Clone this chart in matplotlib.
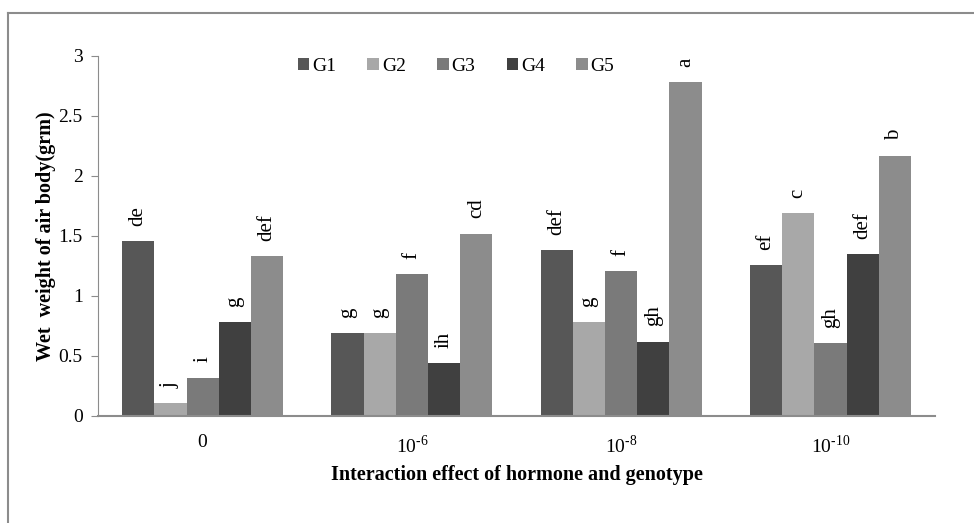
import numpy as np
import matplotlib
matplotlib.use("Agg")
import matplotlib.pyplot as plt
from matplotlib.lines import Line2D

plt.rcParams['font.family'] = ['Liberation Serif', 'DejaVu Serif']
plt.rcParams['mathtext.fontset'] = 'custom'
plt.rcParams['mathtext.rm'] = 'Liberation Serif'

# data
treatments = ['0', r'$10^{\text{-}6}$', r'$10^{\text{-}8}$', r'$10^{\text{-}10}$']
genotypes = ['G1', 'G2', 'G3', 'G4', 'G5']
g1 = [1.46, 0.69, 1.38, 1.26]
g2 = [0.11, 0.69, 0.78, 1.69]
g3 = [0.32, 1.18, 1.21, 0.61]
g4 = [0.78, 0.44, 0.62, 1.35]
g5 = [1.33, 1.52, 2.78, 2.17]
letters_g1 = ['de', 'g', 'def', 'ef']
letters_g2 = ['j', 'g', 'g', 'c']
letters_g3 = ['i', 'f', 'f', 'gh']
letters_g4 = ['g', 'ih', 'gh', 'def']
letters_g5 = ['def', 'cd', 'a', 'b']

series = [g1, g2, g3, g4, g5]
letters = [letters_g1, letters_g2, letters_g3, letters_g4, letters_g5]
colors = ['#575757', '#a8a8a8', '#7a7a7a', '#404040', '#8c8c8c']

fig = plt.figure(figsize=(9.74, 5.23), dpi=100)
ax = fig.add_axes([0.1006, 0.2046, 0.8594, 0.6884])

x = np.arange(len(treatments))
w = 0.154
for i, (vals, labs) in enumerate(zip(series, letters)):
    pos = x + (i - 2) * w
    ax.bar(pos, vals, width=w, color=colors[i], label=genotypes[i], zorder=2)
    for px, v, t in zip(pos, vals, labs):
        ax.annotate(t, (px, v), xytext=(0, 11), textcoords='offset points',
                    rotation=90, ha='center', va='bottom', fontsize=15)

ax.set_xlim(-0.5, 3.5)
ax.set_ylim(0, 3)
ax.set_yticks([0, 0.5, 1, 1.5, 2, 2.5, 3])
ax.set_yticklabels(['0', '0.5', '1', '1.5', '2', '2.5', '3'])
ax.set_xticks(x)
ax.set_xticklabels(treatments)
ax.tick_params(axis='x', length=0, pad=13, labelsize=14)
ax.tick_params(axis='y', length=5, color='#8c8c8c', pad=6, labelsize=14)

for s in ['top', 'right']:
    ax.spines[s].set_visible(False)
ax.spines['left'].set_color('#8c8c8c')
ax.spines['bottom'].set_color('#8c8c8c')
ax.spines['bottom'].set_linewidth(1.5)

ax.set_xlabel('Interaction effect of hormone and genotype', fontsize=14.5,
              fontweight='bold', labelpad=6)
ax.set_ylabel('Wet  weight of air body(grm)', fontsize=14.5, fontweight='bold',
              labelpad=2)

ax.legend(loc='upper left', bbox_to_anchor=(0.2175, 1.044), ncol=5, frameon=False,
          fontsize=14, handlelength=0.6, handleheight=0.6, handletextpad=0.15,
          columnspacing=1.6)

# outer frame of the chart area
fig.add_artist(Line2D([8 / 974, 1], [1 - 13 / 523] * 2, color='#8c8c8c', lw=1.5))
fig.add_artist(Line2D([8 / 974] * 2, [0, 1 - 13 / 523], color='#8c8c8c', lw=1.5))

fig.savefig('out.png', dpi=100)
